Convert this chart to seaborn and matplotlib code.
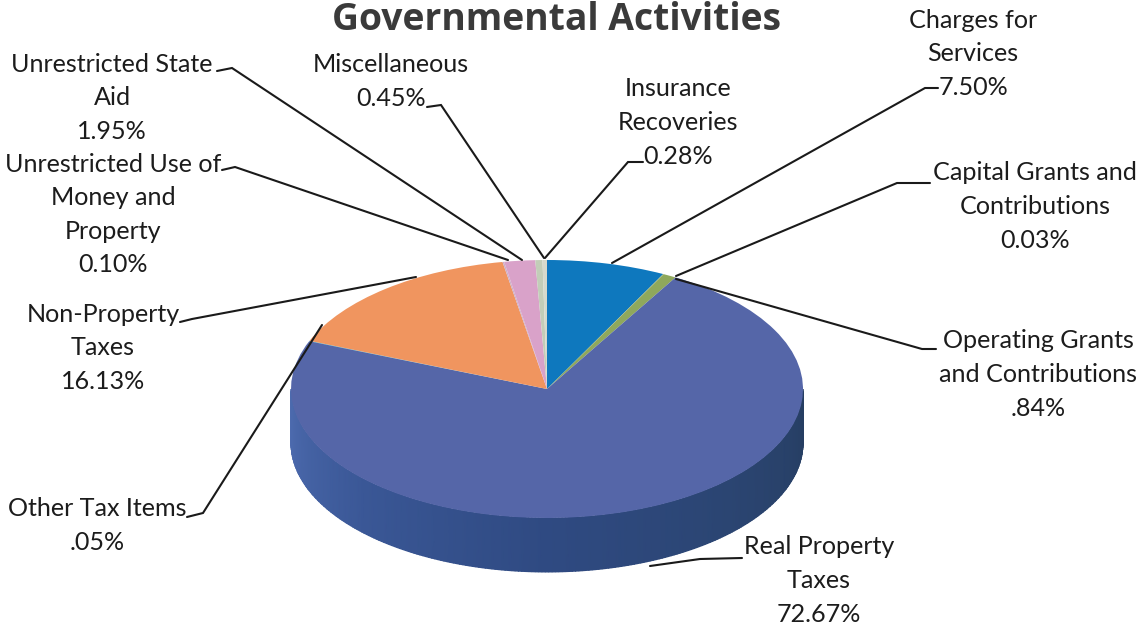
import numpy as np
import matplotlib
matplotlib.use("Agg")
import matplotlib.pyplot as plt
from matplotlib.colors import LinearSegmentedColormap
import seaborn as sns

# Revenue shares, clockwise from twelve o'clock
categories = [
    "Charges for\nServices",
    "Capital Grants and\nContributions",
    "Operating Grants\nand Contributions",
    "Real Property\nTaxes",
    "Other Tax Items",
    "Non-Property\nTaxes",
    "Unrestricted Use of\nMoney and\nProperty",
    "Unrestricted State\nAid",
    "Miscellaneous",
    "Insurance\nRecoveries",
]
shares = [7.50, 0.03, 0.84, 72.67, 0.05, 16.13, 0.10, 1.95, 0.45, 0.28]
share_labels = ["7.50%", "0.03%", ".84%", "72.67%", ".05%", "16.13%",
                "0.10%", "1.95%", "0.45%", "0.28%"]
slice_colors = ["#0E78BE", "#9AA860", "#8FA85C", "#5566A8", "#1290BC",
                "#F0955F", "#CDB0C8", "#D9A2C9", "#C2CDB8", "#D5D9CC"]

title = "Governmental Activities"

# Label centres (x, y of the first line) and leader polylines, in figure pixels
label_pos = [
    (973, 20), (1035, 173), (1038, 341), (819, 547), (97, 509),
    (103, 314), (113, 164), (112, 64), (391, 65), (678, 89),
]
leaders = [
    [(938, 88), (925, 88), (612, 263)],
    [(930, 183), (897, 183), (676, 276)],
    [(936, 349), (922, 349), (676, 279)],
    [(742, 558), (700, 559), (650, 566)],
    [(187, 517), (203, 513), (322, 325)],
    [(180, 322), (192, 319), (416, 277)],
    [(222, 170), (235, 167), (508, 260)],
    [(217, 71), (232, 68), (522, 260)],
    [(427, 107), (441, 105), (544, 258)],
    [(643, 162), (628, 162), (545, 258)],
]

W, H = 1144, 629
CX, CY, RX, RY, DEPTH = 547, 389, 256, 129, 54

sns.set_theme(style="white", rc={"figure.facecolor": "white", "axes.facecolor": "white"})
plt.rcParams["font.family"] = ["Lato", "DejaVu Sans"]
palette = sns.color_palette(slice_colors)

fig = plt.figure(figsize=(W / 100, H / 100), dpi=100)

# Unit-circle axes stretched so the disc reads as a tilted ellipse
ax = fig.add_axes([0, 0, 1, 1])
ax.pie(shares, colors=palette, startangle=90, counterclock=False, radius=1,
       wedgeprops={"linewidth": 0})

# Rim of the disc, shaded from the lit left side to the dark right
rim_cmap = LinearSegmentedColormap.from_list(
    "rim", ["#4E6CB0", "#3A5796", "#2F4A82", "#2B4572", "#263E62"])
theta = np.linspace(np.pi, 2 * np.pi, 240)
depth = DEPTH / RY
rim_x = np.vstack([np.cos(theta), np.cos(theta)])
rim_y = np.vstack([np.sin(theta), np.sin(theta) - depth])
rim_c = np.vstack([theta, theta])
ax.pcolormesh(rim_x, rim_y, rim_c, cmap=rim_cmap, shading="gouraud", zorder=0.5)

ax.set_aspect("auto")
ax.set_xlim(-CX / RX, (W - CX) / RX)
ax.set_ylim((CY - H) / RY, CY / RY)

# Overlay in pixel coordinates for the title, labels and leaders
ov = fig.add_axes([0, 0, 1, 1], facecolor="none")
ov.set_xlim(0, W)
ov.set_ylim(H, 0)
ov.axis("off")

ov.text(556, 30, title, ha="center", va="baseline", fontsize=26.8, fontweight="bold",
        color="#3A3A3A", family=["Open Sans", "DejaVu Sans"])

LINE = 33.6
for name, share, (x, y), path in zip(categories, share_labels, label_pos, leaders):
    for k, line in enumerate((name + "\n" + share).split("\n")):
        ov.text(x, y + k * LINE, line, ha="center", va="center", fontsize=18.1, color="#1C1C1C")
    px, py = zip(*path)
    ov.plot(px, py, color="#1A1A1A", lw=1.5, solid_joinstyle="miter")

fig.savefig("out.png", dpi=100)
